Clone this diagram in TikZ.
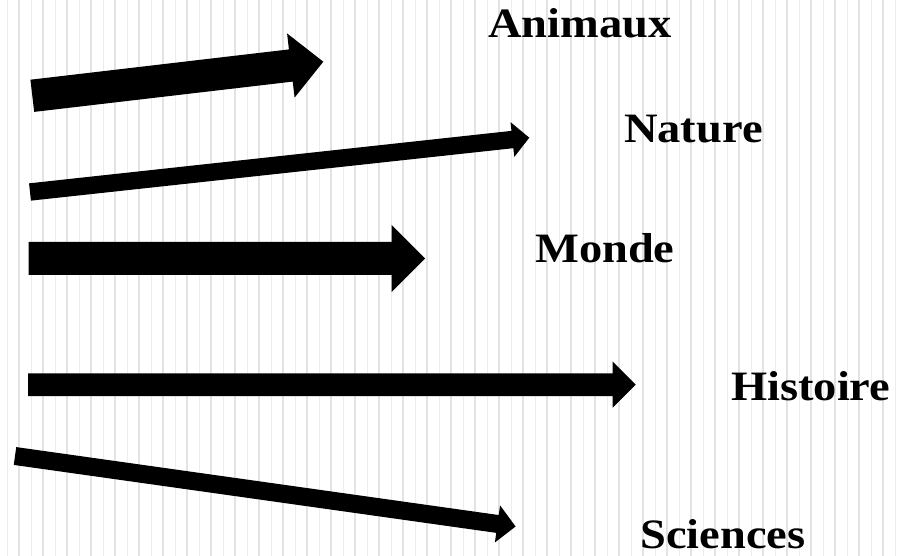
\documentclass[tikz,border=0pt]{standalone}
\usepackage{fontspec}
\setmainfont{Liberation Serif}
\usetikzlibrary{calc}
\tikzset{
  bglinethin/.style={draw=black!7, line width=1bp},
  bglinethick/.style={draw=black!11, line width=2bp},
  lbl/.style={anchor=base west, inner sep=0pt, font=\fontsize{42}{50}\selectfont\bfseries},
  arrowfill/.style={fill=black},
}
\newcommand\fatarrow[5]{% tail, tip, shaft half width, head half width, head length
  \coordinate (hb) at ($(#2)!#5!(#1)$);
  \fill[arrowfill] ($(#1)!#3!90:(#2)$) -- ($(hb)!#3!90:(#2)$) -- ($(hb)!#4!90:(#2)$) -- (#2)
    -- ($(hb)!#4!-90:(#2)$) -- ($(hb)!#3!-90:(#2)$) -- ($(#1)!#3!-90:(#2)$) -- cycle;}
\begin{document}
\begin{tikzpicture}[x=1bp,y=-1bp]
\useasboundingbox (0,0) rectangle (906,556);
\fill[white] (0,0) rectangle (906,556);
\foreach \k in {0,...,37} {\draw[bglinethin] ({7.3+24*\k},0) -- ({7.3+24*\k},556);}
\foreach \k in {0,...,36} {\draw[bglinethick] ({18.7+24*\k},0) -- ({18.7+24*\k},556);}

\coordinate (a1) at (32.3,95.8);  \coordinate (b1) at (323.3,61.7);
\coordinate (a2) at (30,192);     \coordinate (b2) at (529.3,137.7);
\coordinate (a3) at (28.7,258.5); \coordinate (b3) at (425,258.5);
\coordinate (a4) at (28,384.7);   \coordinate (b4) at (635.7,384.7);
\coordinate (a5) at (15,456);     \coordinate (b5) at (515.6,526.5);

\fatarrow{a1}{b1}{16.2bp}{32.3bp}{32.7bp}
\fatarrow{a2}{b2}{8.7bp}{17.5bp}{17bp}
\fatarrow{a3}{b3}{16.5bp}{33.3bp}{33.3bp}
\fatarrow{a4}{b4}{11.3bp}{23bp}{23bp}
\fatarrow{a5}{b5}{9bp}{18.7bp}{18.3bp}

\node[lbl] (animaux)  at (488,38)  {\scalebox{1.11}[1]{Animaux}};
\node[lbl] (nature)   at (624,143) {\scalebox{1.11}[1]{Nature}};
\node[lbl] (monde)    at (535,263) {\scalebox{1.11}[1]{Monde}};
\node[lbl] (histoire) at (731,400) {\scalebox{1.11}[1]{Histoire}};
\node[lbl] (sciences) at (640,548) {\scalebox{1.11}[1]{Sciences}};
\end{tikzpicture}
\end{document}
